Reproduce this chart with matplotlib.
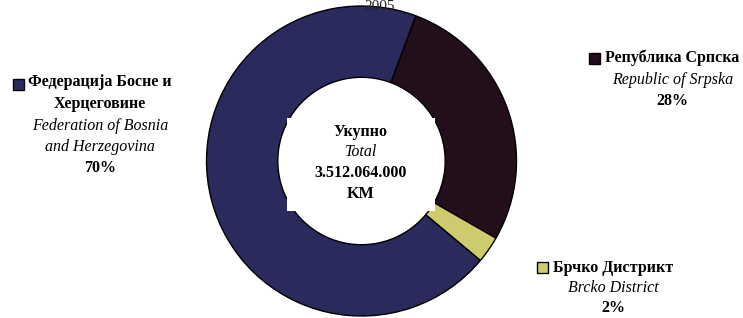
import matplotlib
matplotlib.use("Agg")
import matplotlib.pyplot as plt
from matplotlib.patches import Rectangle

plt.rcParams['font.family'] = ['Liberation Serif', 'DejaVu Serif']

# Data (order: clockwise from the top boundary)
categories_cyr = ['Република Српска', 'Брчко Дистрикт', 'Федерација Босне и\nХерцеговине']
categories_en = ['Republic of Srpska', 'Brcko District', 'Federation of Bosnia\nand Herzegovina']
values = [27.6, 2.8, 69.6]
pct_labels = ['28%', '2%', '70%']
colors = ['#230E1C', '#CDCB6E', '#2A2A5C']
title = '2005'
center_lines = ['Укупно', 'Total', '3.512.064.000', 'KM']

W, H = 743, 318
fig = plt.figure(figsize=(W / 100, H / 100), dpi=100)

def fx(x):
    return x / W

def fy(y):
    return 1 - y / H

# Pie axes: centre (361.5, 161), radius 155 px
cx, cy, R = 361.5, 161, 155
ax = fig.add_axes([fx(cx - R), fy(cy + R), 2 * R / W, 2 * R / H])
ax.pie(values, colors=colors, startangle=69.5, counterclock=False,
       radius=1.0,
       wedgeprops=dict(width=0.46, edgecolor='black', linewidth=1.0))
ax.set_xlim(-1.0, 1.0)
ax.set_ylim(-1.0, 1.0)
ax.set_aspect('equal')
ax.axis('off')

# title at the very top, behind the ring outline
fig.text(fx(379.5), fy(10.5), title, ha='center', va='baseline', fontsize=11,
         color='#222222', zorder=0)

# white text box in centre
fig.patches.append(Rectangle((fx(287), fy(211)), fx(435) - fx(287), fy(118) - fy(211),
                             transform=fig.transFigure, facecolor='white',
                             edgecolor='none', zorder=5))

fs = 11.5
# centre text
cys = [131.7, 151.7, 172.7, 194.3]
styles = [('bold', 'normal'), ('normal', 'italic'), ('bold', 'normal'), ('bold', 'normal')]
for t, y, (w, s) in zip(center_lines, cys, styles):
    fig.text(fx(361), fy(y), t, ha='center', va='center', fontsize=fs,
             fontweight=w, fontstyle=s, zorder=6)

def label_block(xc, ys, cyr_lines, en_lines, pct, color, marker_x, marker_y):
    i = 0
    for line in cyr_lines:
        fig.text(fx(xc), fy(ys[i]), line, ha='center', va='center', fontsize=fs,
                 fontweight='bold', zorder=6)
        i += 1
    for line in en_lines:
        fig.text(fx(xc), fy(ys[i]), line, ha='center', va='center', fontsize=fs,
                 fontstyle='italic', zorder=6)
        i += 1
    fig.text(fx(xc), fy(ys[i]), pct, ha='center', va='center', fontsize=fs,
             fontweight='bold', zorder=6)
    s = 11
    fig.patches.append(Rectangle((fx(marker_x), fy(marker_y + s / 2)), s / W, s / H,
                                 transform=fig.transFigure, facecolor=color,
                                 edgecolor='black', linewidth=1.0, zorder=6))

# Federation (left)
label_block(100, [82.5, 104, 126, 147, 168],
            categories_cyr[2].split('\n'), categories_en[2].split('\n'),
            pct_labels[2], colors[2], 13, 84)
# Srpska (right top)
label_block(672.5, [58, 80.5, 100.7],
            categories_cyr[0].split('\n'), categories_en[0].split('\n'),
            pct_labels[0], colors[0], 589, 58)
# Brcko (right bottom)
label_block(613.5, [267.7, 287.7, 308.3],
            categories_cyr[1].split('\n'), categories_en[1].split('\n'),
            pct_labels[1], colors[1], 537, 267.5)

fig.savefig('out.png', dpi=100)
